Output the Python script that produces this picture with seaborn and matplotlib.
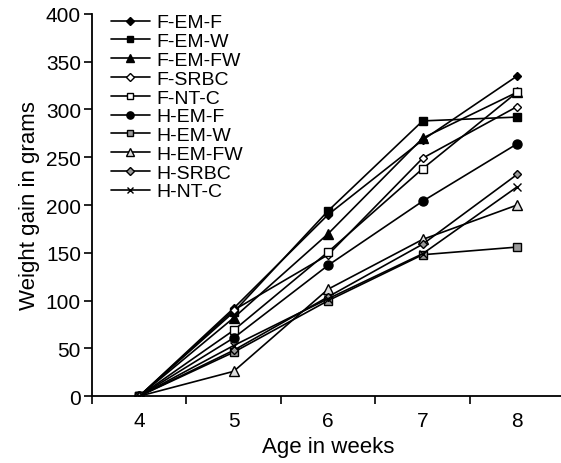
import numpy as np
import pandas as pd
import matplotlib
matplotlib.use("Agg")
import matplotlib.pyplot as plt
from matplotlib.ticker import FixedLocator
import seaborn as sns

# weeks of age and weight gain (g) for each group
weeks = [4, 5, 6, 7, 8]
f_em_f = [0, 92, 190, 268, 335]
f_em_w = [0, 88, 194, 288, 292]
f_em_fw = [0, 82, 170, 270, 318]
f_srbc = [0, 90, 148, 249, 303]
f_nt_c = [0, 69, 151, 238, 318]
h_em_f = [0, 61, 137, 204, 264]
h_em_w = [0, 46, 100, 148, 156]
h_em_fw = [0, 26, 112, 164, 200]
h_srbc = [0, 48, 104, 159, 232]
h_nt_c = [0, 53, 102, 149, 219]

groups = ["F-EM-F", "F-EM-W", "F-EM-FW", "F-SRBC", "F-NT-C",
          "H-EM-F", "H-EM-W", "H-EM-FW", "H-SRBC", "H-NT-C"]
values = [f_em_f, f_em_w, f_em_fw, f_srbc, f_nt_c,
          h_em_f, h_em_w, h_em_fw, h_srbc, h_nt_c]

# marker, face colour, size
styles = {
    "F-EM-F": ("D", "black", 4.5),
    "F-EM-W": ("s", "black", 6),
    "F-EM-FW": ("^", "black", 6.5),
    "F-SRBC": ("D", "white", 4.5),
    "F-NT-C": ("s", "white", 6),
    "H-EM-F": ("o", "black", 6.5),
    "H-EM-W": ("s", "#999999", 6),
    "H-EM-FW": ("^", "#dddddd", 6.5),
    "H-SRBC": ("D", "#999999", 4.5),
    "H-NT-C": ("x", "black", 5.5),
}

sns.set_style("ticks")
plt.rcParams['font.family'] = ['Liberation Sans', 'DejaVu Sans']
plt.rcParams.update({"text.color": "black", "axes.labelcolor": "black",
                     "xtick.color": "black", "ytick.color": "black",
                     "axes.edgecolor": "black"})

fig = plt.figure(figsize=(5.61, 4.64), dpi=100)
ax = fig.add_axes([0.164, 0.144, 0.842, 0.824])

for name, vals in zip(groups, values):
    m, fc, ms = styles[name]
    df = pd.DataFrame({"week": weeks, "gain": vals})
    sns.lineplot(data=df, x="week", y="gain", ax=ax, color="black",
                 linewidth=1.2, marker=m, markerfacecolor=fc,
                 markeredgecolor="black", markeredgewidth=1.0,
                 markersize=ms, label=name)

ax.set_xlim(3.5, 8.5)
ax.set_ylim(0, 400)
ax.set_xticks(weeks)
ax.set_xticklabels([str(w) for w in weeks])
ax.xaxis.set_minor_locator(FixedLocator(np.arange(3.5, 9.0, 1.0)))
ax.tick_params(axis="x", which="major", length=0, labelsize=15, pad=11)
ax.tick_params(axis="x", which="minor", length=6, width=1.2, direction="out")
ax.tick_params(axis="y", length=6, width=1.2, labelsize=15, pad=2)
ax.set_yticks(range(0, 401, 50))

for s in ["top", "right"]:
    ax.spines[s].set_visible(False)
for s in ["left", "bottom"]:
    ax.spines[s].set_linewidth(1.3)

ax.set_xlabel("Age in weeks", fontsize=16, labelpad=4)
ax.set_ylabel("Weight gain in grams", fontsize=16, labelpad=4)

ax.legend(loc="upper left", bbox_to_anchor=(0.04, 1.0), frameon=False,
          fontsize=14, handlelength=2.0, handletextpad=0.35,
          labelspacing=0.06, borderpad=0, borderaxespad=0,
          markerscale=0.8)

fig.savefig("out.png", dpi=100)
